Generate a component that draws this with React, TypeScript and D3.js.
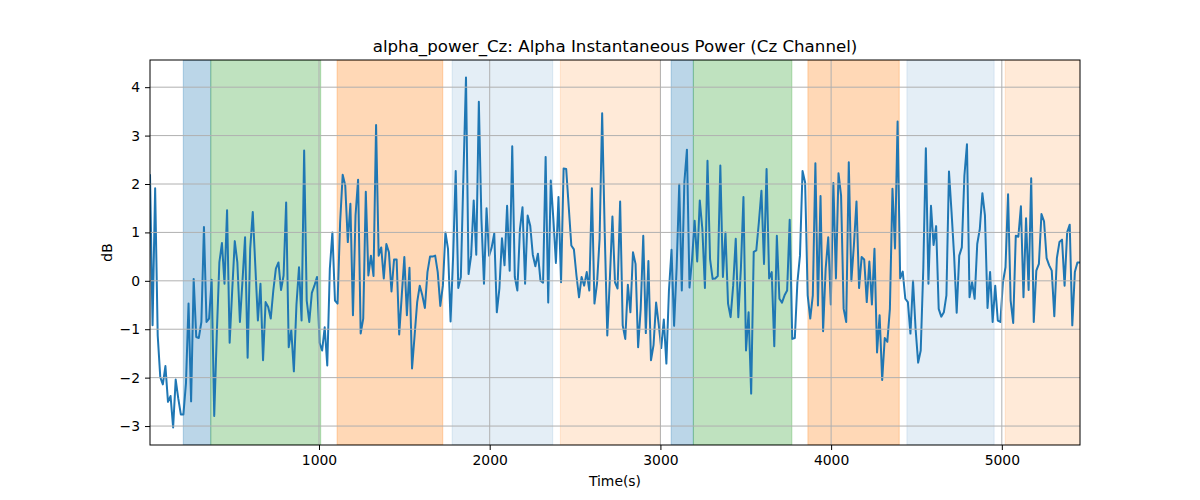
import { useRef, useEffect } from "react";
import * as d3 from "d3";

// alpha power (dB), one sample per ~15 s
const alphaDb = [
  2.2, -0.92, 1.91, -1.13, -1.99, -2.14, -1.76, -2.5, -2.38, -3.03, -2.04, -2.43, -2.76, -2.76, -2.12, -0.47,
  -2.49, 0.04, -1.16, -1.18, -0.85, 1.11, -0.85, -0.78, 0.02, -2.79, -1.1, 0.38, 0.78, -0.06, 1.46, -1.28, -0.2,
  0.82, 0.38, -0.85,
  0.0, 0.9, -1.59, 0.66, 1.42, 0.3, -0.82, -0.06, -1.64, -0.44, -0.54, -0.78, -0.2, 0.25, 0.38, -0.19, 0.11, 1.62,
  -1.37, -1.02, -1.87, -0.5, 0.28, -0.82, 2.69, -0.41, -0.85, -0.25, -0.1, 0.08, -1.28, -1.44, -0.96, -1.75, 0.25,
  1.0, -0.41, -0.47,
  1.2, 2.19, 1.97, 0.8, 1.59, -0.71, 1.35, 2.09, -1.09, -0.78, 1.84, 0.11, 0.52, 0.1, 3.22, 0.52, 0.69, 0.05, 0.76,
  0.59, -0.22, 0.44, 0.44, -1.11, -0.3, 0.49, -0.71, 0.27, -1.81, -1.13, -0.44, -0.1, -0.3, -0.56, 0.18, 0.5,
  0.5, 0.52, 0.18, -0.52, -0.1, 1.0, 0.66, -0.84, 0.52, 2.27, -0.15, 0.08, 2.17, 4.2, 0.14, 0.52, 1.66, 0.54, 3.7,
  1.28, -0.06, 1.5, 0.52, 0.69, 0.98, -0.65, -0.16, 0.88, 0.32, 1.55, 0.21, 2.78, 0.08, -0.2, 1.07, 1.52, -0.06, 1.35,
  1.14, 0.54, 0.3, 0.56, 0.0, -0.04, 2.56, -0.45, 2.07, 1.28, 0.37, 1.73, -0.03, 2.32, 2.31, 1.52, 0.73, 0.65, 0.11,
  -0.34, 0.08, -0.1, 0.18, -0.2, 1.91, -0.47, -0.06, 0.87, 3.46, 1.0, -1.13, 0.04, 1.33, -0.03, -0.16, 1.64, -0.92,
  -1.2,
  -0.08, -0.65, 0.59, 0.35, -1.37, -0.58, 0.93, -1.08, 0.41, -1.64, -1.33, -0.45, -0.89, -1.39, -0.8, -1.71, -0.2,
  0.64, -0.93, 0.28, 1.99, -0.2, 2.04, 2.71, -0.14, 0.45, 1.24, 0.4, 1.66, 1.07, -0.15, 2.48, 0.45, 0.04, 0.05, 0.1,
  2.38, 0.08, 1.0, -0.47, -0.75, -0.1, 0.87, -0.75, 0.25, 1.73, -1.44, -0.65, -2.33, 0.6, 0.63, 1.21, 1.86, 0.35,
  2.31, 0.05, 0.18, -1.35, 0.93, -0.37, -0.45, -0.3, -0.2, 1.26, -1.2, -1.18, -0.03, 0.52, 2.27, 2.03, -0.3, -0.78,
  -0.3, 2.43,
  -0.51, 1.75, -1.04, 0.25, 0.9, -0.49, 2.02, 0.05, 2.22, 1.76, -0.58, -0.85, 2.45, 0.0, 0.74, 1.64, -0.15, 0.49,
  0.44, -0.44, 0.4, -0.49, 0.66, -1.48, -0.71, -2.05, -1.18, -1.26, -0.58, 1.9, 0.67, 3.29, 0.05, 0.19, -0.37, -0.44,
  -1.09, 0.0, -0.99, -1.69, -1.44, 0.25, 2.74, -0.06, 1.55, 0.74, 1.13, -0.58, -0.74, -0.65, -0.3, 2.26, 1.42, 0.52,
  -0.66, 0.52, 0.69, 2.17, 2.82, -0.34, -0.03, -0.37, 0.76, 1.07, 1.81, 1.35, -0.56, 0.18, -0.85, -0.1, -0.82, -0.85,
  -0.03, 0.28,
  1.79, -0.41, -0.87, 0.93, 0.91, 1.54, -0.34, 1.29, -0.19, 2.12, -0.85, 0.21, 0.35, 1.38, 1.23, 0.47, 0.32, 0.21,
  -0.73, 0.47, 0.8, 0.85, -0.1, 1.0, 1.16, -0.92, 0.18, 0.38, 0.38,
];

const timeStart = 10;
const timeEnd = 5458;

// shaded stage intervals
const spanStarts = [205, 366, 1106, 1780, 2414, 3063, 3193, 3864, 4444, 5020];
const spanEnds = [366, 1010, 1725, 2369, 3000, 3193, 3770, 4399, 4955, 5470];
const spanColors = ["#1f77b4", "#2ca02c", "#ff7f0e", "#1f77b4", "#ff7f0e", "#1f77b4", "#2ca02c", "#ff7f0e", "#1f77b4", "#ff7f0e"];
const spanAlphas = [0.3, 0.3, 0.3, 0.12, 0.16, 0.3, 0.3, 0.3, 0.12, 0.16];

const xTicks = [1000, 2000, 3000, 4000, 5000];
const yTicks = [-3, -2, -1, 0, 1, 2, 3, 4];

const titleText = "alpha_power_Cz: Alpha Instantaneous Power (Cz Channel)";

export default function App() {
  const ref = useRef<SVGSVGElement | null>(null);

  useEffect(() => {
    if (!ref.current) return;
    const W = 1200;
    const H = 500;
    const margin = { top: 60, right: 120, bottom: 55, left: 150 };
    const width = W - margin.left - margin.right;
    const height = H - margin.top - margin.bottom;
    const font = "DejaVu Sans, sans-serif";

    const root = d3.select(ref.current);
    root.selectAll("*").remove();
    root.attr("width", W).attr("height", H);
    root.append("rect").attr("width", W).attr("height", H).attr("fill", "#ffffff");

    const svg = root.append("g").attr("transform", `translate(${margin.left},${margin.top})`);

    const n = alphaDb.length;
    const times = alphaDb.map((_, i) => timeStart + ((timeEnd - timeStart) * i) / (n - 1));
    const points: [number, number][] = alphaDb.map((v, i) => [times[i], v]);

    const x = d3.scaleLinear().domain([timeStart, timeEnd]).range([0, width]);
    const [ymin, ymax] = d3.extent(alphaDb) as [number, number];
    const pad = (ymax - ymin) * 0.05;
    const y = d3.scaleLinear().domain([ymin - pad, ymax + pad]).range([height, 0]);

    const defs = root.append("defs");
    defs.append("clipPath").attr("id", "plot-clip").append("rect").attr("width", width).attr("height", height);

    const plot = svg.append("g").attr("clip-path", "url(#plot-clip)");

    // spans
    spanStarts.forEach((s, i) => {
      const x0 = x(s);
      const x1 = x(spanEnds[i]);
      plot
        .append("rect")
        .attr("x", x0)
        .attr("y", 0)
        .attr("width", x1 - x0)
        .attr("height", height)
        .attr("fill", spanColors[i])
        .attr("fill-opacity", spanAlphas[i])
        .attr("stroke", spanColors[i])
        .attr("stroke-opacity", spanAlphas[i])
        .attr("stroke-width", 1);
    });

    // grid
    const grid = svg.append("g");
    xTicks.forEach((t) => {
      grid
        .append("line")
        .attr("x1", x(t))
        .attr("x2", x(t))
        .attr("y1", 0)
        .attr("y2", height)
        .attr("stroke", "#b0b0b0")
        .attr("stroke-width", 1);
    });
    yTicks.forEach((t) => {
      grid
        .append("line")
        .attr("x1", 0)
        .attr("x2", width)
        .attr("y1", y(t))
        .attr("y2", y(t))
        .attr("stroke", "#b0b0b0")
        .attr("stroke-width", 1);
    });

    const line = d3
      .line<[number, number]>()
      .x((d) => x(d[0]))
      .y((d) => y(d[1]));

    plot
      .append("path")
      .datum(points)
      .attr("fill", "none")
      .attr("stroke", "#1f77b4")
      .attr("stroke-width", 2)
      .attr("stroke-linejoin", "round")
      .attr("d", line(points) || "");

    // frame
    svg
      .append("rect")
      .attr("width", width)
      .attr("height", height)
      .attr("fill", "none")
      .attr("stroke", "#000")
      .attr("stroke-width", 1);

    const xAxis = svg
      .append("g")
      .attr("transform", `translate(0,${height})`)
      .call(d3.axisBottom(x).tickValues(xTicks).tickSize(5).tickPadding(5.5).tickFormat(d3.format("d")));
    const yAxis = svg
      .append("g")
      .call(d3.axisLeft(y).tickValues(yTicks).tickSize(5).tickPadding(5).tickFormat(d3.format("d")));

    [xAxis, yAxis].forEach((a) => {
      a.select(".domain").remove();
      a.selectAll("line").attr("stroke", "#000").attr("stroke-width", 1);
      a.selectAll("text").attr("font-family", font).attr("font-size", 13.9).attr("fill", "#000");
    });
    yAxis.selectAll("text").text((d) => String(d).replace("-", "\u2212"));

    svg
      .append("text")
      .attr("x", width / 2)
      .attr("y", -8)
      .attr("text-anchor", "middle")
      .attr("font-family", font)
      .attr("font-size", 16.67)
      .text(titleText);

    svg
      .append("text")
      .attr("x", width / 2)
      .attr("y", height + 41)
      .attr("text-anchor", "middle")
      .attr("font-family", font)
      .attr("font-size", 13.9)
      .text("Time(s)");

    svg
      .append("text")
      .attr("transform", `translate(${-38},${height / 2}) rotate(-90)`)
      .attr("text-anchor", "middle")
      .attr("font-family", font)
      .attr("font-size", 13.9)
      .text("dB");
  }, []);

  return <svg ref={ref} style={{ position: "absolute", left: 0, top: 0 }} />;
}
